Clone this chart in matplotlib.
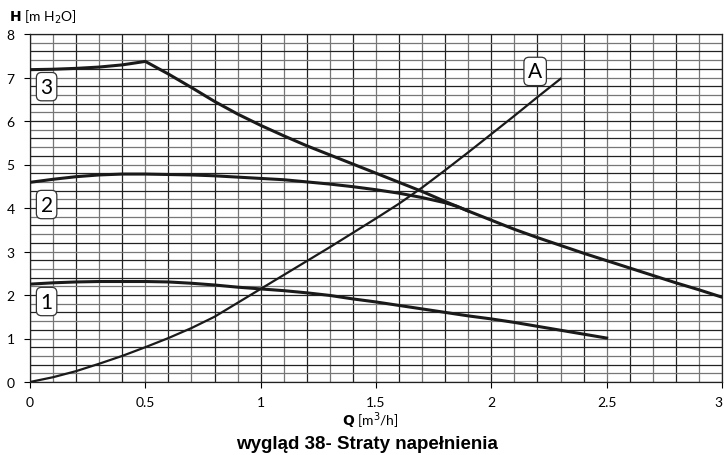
import numpy as np
import matplotlib
matplotlib.use("Agg")
import matplotlib.pyplot as plt

plt.rcParams['font.family'] = ['Lato', 'DejaVu Sans']

# pump curves, values (Q in m3/h, H in m H2O)
q_1 = [0, 0.1, 0.2, 0.3, 0.4, 0.5, 0.6, 0.7, 0.8, 0.9, 1.0, 1.1, 1.2, 1.3,
       1.4, 1.5, 1.6, 1.7, 1.8, 1.9, 2.0, 2.1, 2.2, 2.3, 2.4, 2.5]
h_1 = [2.25, 2.28, 2.30, 2.31, 2.31, 2.31, 2.30, 2.27, 2.23, 2.18, 2.14, 2.10,
       2.05, 1.99, 1.91, 1.84, 1.76, 1.68, 1.60, 1.52, 1.45, 1.37, 1.28, 1.19,
       1.10, 1.01]

q_2 = [0, 0.1, 0.2, 0.3, 0.4, 0.5, 0.6, 0.7, 0.8, 0.9, 1.0, 1.1, 1.2, 1.3,
       1.4, 1.5, 1.6, 1.7, 1.8, 1.85, 1.9]
h_2 = [4.59, 4.66, 4.72, 4.76, 4.78, 4.78, 4.77, 4.76, 4.74, 4.71, 4.68, 4.65,
       4.60, 4.55, 4.49, 4.42, 4.34, 4.24, 4.12, 4.04, 3.93]

q_3 = [0, 0.1, 0.2, 0.3, 0.4, 0.5, 0.6, 0.7, 0.8, 0.9, 1.0, 1.1, 1.2, 1.3,
       1.4, 1.5, 1.6, 1.7, 1.8, 1.9, 2.0, 2.1, 2.2, 2.3, 2.4, 2.5, 2.6, 2.7,
       2.8, 2.9, 3.0]
h_3 = [7.18, 7.19, 7.21, 7.24, 7.29, 7.37, 7.08, 6.77, 6.45, 6.16, 5.90, 5.66,
       5.43, 5.22, 5.01, 4.80, 4.59, 4.38, 4.15, 3.93, 3.72, 3.51, 3.32, 3.14,
       2.96, 2.79, 2.62, 2.45, 2.28, 2.12, 1.95]

# system curve A
q_a = [0, 0.1, 0.2, 0.3, 0.4, 0.5, 0.6, 0.7, 0.8, 0.9, 1.0, 1.1, 1.2, 1.3,
       1.4, 1.5, 1.6, 1.7, 1.8, 1.9, 2.0, 2.1, 2.2, 2.3]
h_a = [0, 0.11, 0.25, 0.42, 0.60, 0.80, 1.01, 1.24, 1.50, 1.82, 2.14, 2.46,
       2.78, 3.10, 3.43, 3.76, 4.10, 4.47, 4.87, 5.28, 5.70, 6.12, 6.55, 6.97]

x_ticks = [0, 0.5, 1, 1.5, 2, 2.5, 3]
x_tick_labels = ['0', '0.5', '1', '1.5', '2', '2.5', '3']
y_ticks = [0, 1, 2, 3, 4, 5, 6, 7, 8]

fig = plt.figure(figsize=(7.24, 4.56), dpi=100)
ax = fig.add_axes([30/724, 73/456, 692/724, 348/456])

# dense grid
for i, gx in enumerate(np.arange(0, 3.0001, 0.1)):
    ax.axvline(gx, color='#222222' if i % 2 == 0 else '#777777', lw=0.9, zorder=1)
for i, gy in enumerate(np.arange(0, 8.0001, 0.2)):
    ax.axhline(gy, color='#222222' if i % 2 == 0 else '#777777', lw=0.9, zorder=1)

ax.plot(q_a, h_a, color='#1a1a1a', lw=1.6, zorder=3)
ax.plot(q_1, h_1, color='#1a1a1a', lw=2.2, zorder=3)
ax.plot(q_2, h_2, color='#1a1a1a', lw=2.2, zorder=3)
ax.plot(q_3, h_3, color='#1a1a1a', lw=2.2, zorder=3)

box = dict(boxstyle='round,pad=0.2,rounding_size=0.25', facecolor='white',
           edgecolor='#333333', lw=0.9)
for txt, qx, hy in [('3', 0.072, 6.79), ('2', 0.072, 4.08), ('1', 0.072, 1.85), ('A', 2.19, 7.14)]:
    ax.text(qx, hy, txt, fontsize=15, ha='center', va='center', bbox=box, zorder=4)

ax.set_xlim(0, 3)
ax.set_ylim(0, 8)
ax.set_xticks(x_ticks)
ax.set_xticklabels(x_tick_labels)
ax.set_yticks(y_ticks)
ax.tick_params(direction='out', length=4, width=0.8, labelsize=10)
ax.tick_params(axis='x', pad=6)
ax.tick_params(axis='y', pad=7)
# last label sits at the figure edge, keep it inside
ax.get_xticklabels()[-1].set_horizontalalignment('right')
for s in ax.spines.values():
    s.set_color('#222222')
    s.set_linewidth(0.9)

fig.text(9/724, 1 - 17/456, r'$\mathbf{H}$ [m H$_2$O]', fontsize=10, va='center', ha='left')
fig.text(370/724, 1 - 421/456, r'$\mathbf{Q}$ [m$^3$/h]', fontsize=10, va='center', ha='center')
fig.text(367/724, 1 - 445/456, 'wygląd 38- Straty napełnienia', fontsize=13.5,
         fontweight='bold', family=['Liberation Sans', 'DejaVu Sans'], va='center', ha='center')

fig.savefig('out.png', dpi=100)
